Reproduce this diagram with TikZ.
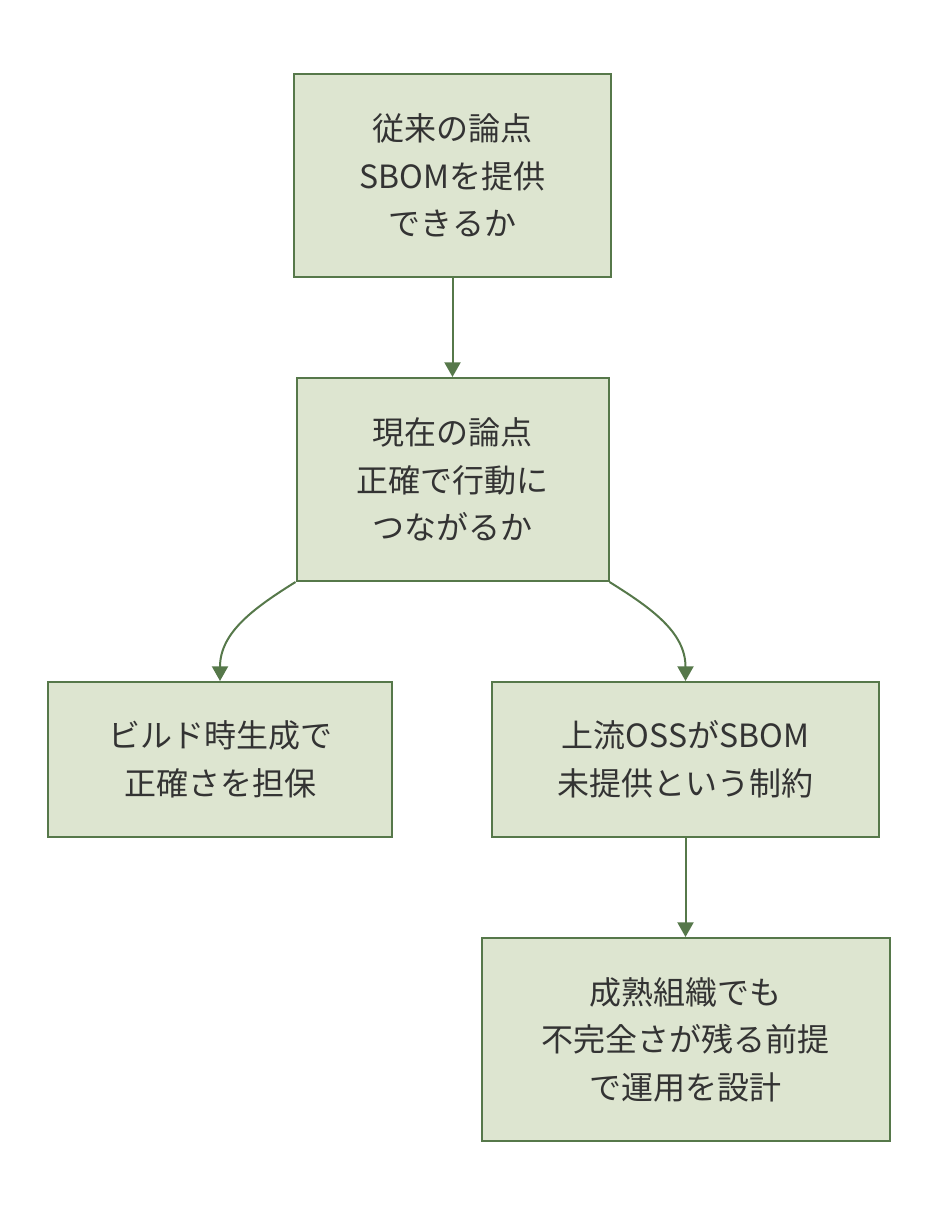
\documentclass[tikz,border=0pt]{standalone}
\usepackage{fontspec}
\setmainfont{Noto Sans CJK JP}
\usetikzlibrary{arrows.meta}
\definecolor{boxfill}{HTML}{DDE5D0}
\definecolor{boxline}{HTML}{56784A}
\definecolor{boxtext}{HTML}{333333}
\begin{document}
\begin{tikzpicture}[x=0.75pt,y=-0.75pt,>={Triangle[length=11pt,width=12pt]},
  font=\fontsize{24}{35.6}\selectfont,
  box/.style={draw=boxline,line width=1.5pt,fill=boxfill,text=boxtext,align=center,inner sep=0pt},
  link/.style={->,draw=boxline,line width=1.5pt}]
\useasboundingbox (0,0) rectangle (938,1220);
\node[box,minimum width=237.75pt,minimum height=152.25pt] (old) at (452.5,175.5){従来の論点\\SBOMを提供\\できるか};
\node[box,minimum width=234pt,minimum height=152.25pt] (now) at (452.5,479.5){現在の論点\\正確で行動に\\つながるか};
\node[box,minimum width=258pt,minimum height=116.25pt] (build) at (220,759.5){ビルド時生成で\\正確さを担保};
\node[box,minimum width=290.25pt,minimum height=116.25pt] (oss) at (685.5,759.5){上流OSSがSBOM\\未提供という制約};
\node[box,minimum width=306pt,minimum height=152.25pt] (ops) at (685.5,1039.5){成熟組織でも\\不完全さが残る前提\\で運用を設計};
\draw[link] (old) -- (now);
\draw[link] (now.south west) to[out=-148,in=90] (build.north);
\draw[link] (now.south east) to[out=-32,in=90] (oss.north);
\draw[link] (oss) -- (ops);
\end{tikzpicture}
\end{document}
